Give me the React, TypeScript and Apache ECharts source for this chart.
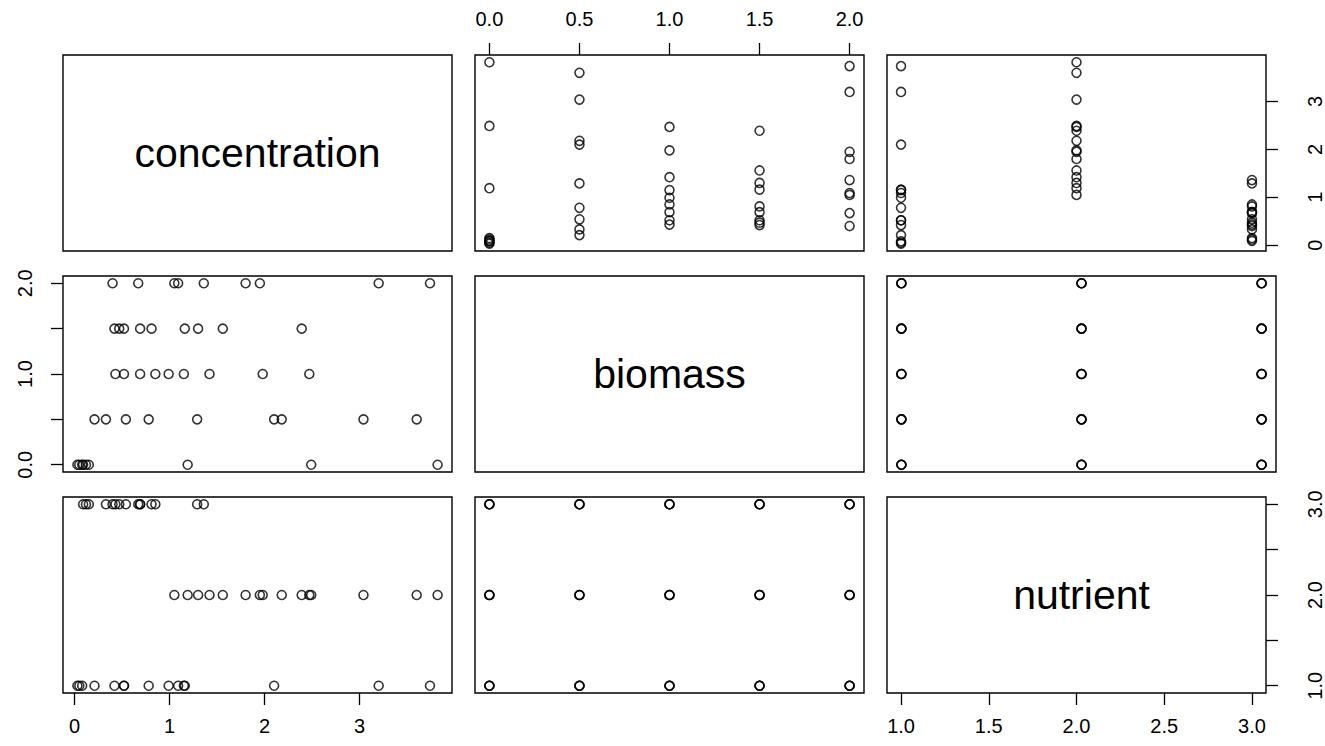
import React, { useEffect, useRef } from "react";
import * as echarts from "echarts";

// Data: each row = one observation (biomass, nutrient, concentration)
const biomass = [
  0, 0, 0, 0, 0, 0, 0, 0, 0,
  0.5, 0.5, 0.5, 0.5, 0.5, 0.5, 0.5, 0.5, 0.5,
  1, 1, 1, 1, 1, 1, 1, 1, 1,
  1.5, 1.5, 1.5, 1.5, 1.5, 1.5, 1.5, 1.5, 1.5,
  2, 2, 2, 2, 2, 2, 2, 2, 2,
];
const nutrient = [
  1, 1, 1, 2, 2, 2, 3, 3, 3,
  1, 1, 1, 2, 2, 2, 3, 3, 3,
  1, 1, 1, 2, 2, 2, 3, 3, 3,
  1, 1, 1, 2, 2, 2, 3, 3, 3,
  1, 1, 1, 2, 2, 2, 3, 3, 3,
];
const concentration = [
  0.03, 0.05, 0.08, 1.19, 2.49, 3.82, 0.09, 0.12, 0.15,
  0.21, 0.78, 2.10, 2.18, 3.04, 3.60, 0.33, 0.54, 1.29,
  0.52, 0.99, 1.15, 1.42, 1.98, 2.47, 0.43, 0.69, 0.85,
  0.42, 0.52, 1.16, 1.30, 1.56, 2.39, 0.47, 0.69, 0.81,
  1.09, 3.20, 3.74, 1.05, 1.80, 1.95, 0.40, 0.67, 1.36,
];

const varNames = ["concentration", "biomass", "nutrient"];
const concTicks = [0, 1, 2, 3];
const biomassTicks = [0, 0.5, 1, 1.5, 2];
const nutrientTicks = [1, 1.5, 2, 2.5, 3];
// horizontal axes show every label; vertical axes skip crowded ones
const concLabelsX = [0, 1, 2, 3];
const biomassLabelsX = [0, 0.5, 1, 1.5, 2];
const nutrientLabelsX = [1, 1.5, 2, 2.5, 3];
const concLabelsY = [0, 1, 2, 3];
const biomassLabelsY = [0, 1, 2];
const nutrientLabelsY = [1, 2, 3];

const FONT = "Liberation Sans";

function rangeOf(v: number[]) {
  const lo = Math.min(...v);
  const hi = Math.max(...v);
  const pad = (hi - lo) * 0.04;
  return [lo - pad, hi + pad];
}

export default function App() {
  const ref = useRef<HTMLDivElement>(null);
  useEffect(() => {
    if (!ref.current) return;
    const chart = echarts.init(ref.current, null, { renderer: "svg" });
    const vars = [concentration, biomass, nutrient];
    const ticks = [concTicks, biomassTicks, nutrientTicks];
    const labelsX = [concLabelsX, biomassLabelsX, nutrientLabelsX];
    const labelsY = [concLabelsY, biomassLabelsY, nutrientLabelsY];
    const decimals = [0, 1, 1];
    const ranges = vars.map(rangeOf);

    const colLeft = [63, 475, 887];
    const rowTop = [55, 276, 497];
    const W = 389;
    const H = 196;

    const grids: any[] = [];
    const xAxes: any[] = [];
    const yAxes: any[] = [];
    const series: any[] = [];
    const graphics: any[] = [];

    for (let r = 0; r < 3; r++) {
      for (let c = 0; c < 3; c++) {
        const gi = r * 3 + c;
        grids.push({
          left: colLeft[c],
          top: rowTop[r],
          width: W,
          height: H,
          show: true,
          borderColor: "#000",
          borderWidth: 1.4,
          backgroundColor: "transparent",
          containLabel: false,
        });
        let xPos: string | null = null;
        if (r === 0 && c === 1) xPos = "top";
        if (r === 2 && (c === 0 || c === 2)) xPos = "bottom";
        let yPos: string | null = null;
        if (c === 2 && (r === 0 || r === 2)) yPos = "right";
        if (c === 0 && r === 1) yPos = "left";

        const xv = c;
        const yv = r;
        const dx = decimals[xv];
        const dy = decimals[yv];
        xAxes.push({
          type: "value",
          gridIndex: gi,
          min: ranges[xv][0],
          max: ranges[xv][1],
          position: xPos || "bottom",
          show: true,
          axisLine: { show: false, onZero: false },
          splitLine: { show: false },
          axisTick: {
            show: !!xPos,
            inside: false,
            length: 12,
            lineStyle: { color: "#000", width: 1.3 },
            customValues: ticks[xv],
          },
          axisLabel: {
            show: !!xPos,
            margin: xPos === "top" ? 26 : 23,
            color: "#000",
            fontSize: 20,
            fontFamily: FONT,
            customValues: labelsX[xv],
            formatter: (v: number) => v.toFixed(dx),
          },
        });
        yAxes.push({
          type: "value",
          gridIndex: gi,
          min: ranges[yv][0],
          max: ranges[yv][1],
          position: yPos || "left",
          show: true,
          axisLine: { show: false, onZero: false },
          splitLine: { show: false },
          axisTick: {
            show: !!yPos,
            inside: false,
            length: 12,
            lineStyle: { color: "#000", width: 1.3 },
            customValues: ticks[yv],
          },
          axisLabel: {
            show: !!yPos,
            rotate: 90,
            margin: yPos === "right" ? 39 : 28,
            color: "#000",
            fontSize: 20,
            fontFamily: FONT,
            customValues: labelsY[yv],
            formatter: (v: number) => v.toFixed(dy),
          },
        });
        if (r !== c) {
          series.push({
            type: "scatter",
            xAxisIndex: gi,
            yAxisIndex: gi,
            symbol: "circle",
            symbolSize: 9,
            itemStyle: { color: "rgba(0,0,0,0)", borderColor: "#000", borderWidth: 1.6 },
            data: vars[xv].map((x, i) => [x, vars[yv][i]]),
          });
        } else {
          graphics.push({
            type: "text",
            x: colLeft[c] + W / 2,
            y: rowTop[r] + H / 2,
            style: {
              text: varNames[r],
              fontSize: 41,
              fontFamily: FONT,
              fill: "#000",
              textAlign: "center",
              textVerticalAlign: "middle",
            },
          });
        }
      }
    }

    chart.setOption({
      animation: false,
      backgroundColor: "#fff",
      grid: grids,
      xAxis: xAxes,
      yAxis: yAxes,
      series,
      graphic: graphics,
    });
    return () => chart.dispose();
  }, []);
  return (
    <div
      ref={ref}
      style={{ position: "fixed", left: 0, top: 0, width: 1325, height: 746, background: "#fff" }}
    />
  );
}
